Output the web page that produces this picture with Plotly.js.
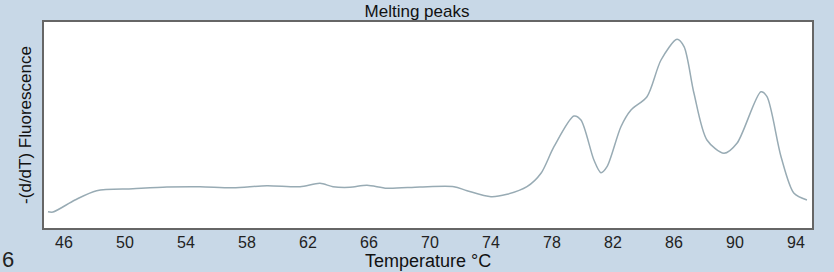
<!DOCTYPE html>
<html>
<head>
<meta charset="utf-8">
<script src="https://cdn.plot.ly/plotly-3.0.1.min.js"></script>
<style>html,body{margin:0;padding:0;background:#c8d8e7;}#chart{width:834px;height:272px;}</style>
</head>
<body>
<div id="chart"></div>
<script>
const temperature = [44.95, 45.28, 46.72, 48.14, 50.52, 52.75, 54.92, 57.08, 59.31, 61.48, 62.79, 63.64, 64.75, 65.87, 67.18, 69.34, 71.57, 72.43, 74.0, 75.05, 76.36, 77.28, 78.13, 79.44, 79.9, 80.75, 81.21, 81.61, 82.52, 83.18, 84.23, 85.15, 86.2, 86.66, 87.31, 88.16, 89.28, 90.13, 91.7, 92.1, 93.02, 93.87, 94.72];
const fluorescence = [0.163, 0.16, 0.28, 0.373, 0.393, 0.41, 0.413, 0.403, 0.423, 0.413, 0.447, 0.413, 0.407, 0.427, 0.397, 0.41, 0.413, 0.373, 0.313, 0.337, 0.413, 0.547, 0.813, 1.12, 1.08, 0.68, 0.553, 0.613, 1.013, 1.18, 1.313, 1.68, 1.887, 1.813, 1.347, 0.88, 0.747, 0.847, 1.363, 1.313, 0.713, 0.347, 0.28];
const tickValues = [46, 50, 54, 58, 62, 66, 70, 74, 78, 82, 86, 90, 94];
const tickLabels = ["46", "50", "54", "58", "62", "66", "70", "74", "78", "82", "86", "90", "94"];

const font = "Liberation Sans, Arial, sans-serif";
Plotly.newPlot("chart", [{
  x: temperature, y: fluorescence, type: "scatter", mode: "lines",
  line: {color: "#98abb4", width: 1.5, shape: "spline", smoothing: 0.8},
  hoverinfo: "skip"
}], {
  width: 834, height: 272,
  paper_bgcolor: "#c8d8e7", plot_bgcolor: "#ffffff",
  margin: {l: 44, r: 22, t: 22, b: 44},
  showlegend: false,
  title: {text: "Melting peaks", font: {family: font, size: 17, color: "#111"}, x: 0.5, xanchor: "center", y: 0.96, yanchor: "middle"},
  xaxis: {
    range: [44.69, 95.05], tickvals: tickValues, ticktext: tickLabels,
    tickfont: {family: font, size: 16, color: "#222"}, ticks: "", showgrid: false, zeroline: false,
    ticklabelstandoff: -1,
    showline: true, linecolor: "#666", linewidth: 2, mirror: true
  },
  yaxis: {
    range: [0, 2.06], showticklabels: false, ticks: "", showgrid: false, zeroline: false,
    showline: true, linecolor: "#666", linewidth: 2, mirror: true,
    title: {text: "-(d/dT) Fluorescence", font: {family: font, size: 17, color: "#111"}, standoff: 6}
  },
  annotations: [
    {text: "Temperature °C", xref: "paper", yref: "paper", x: 0.5, y: -0.16, xanchor: "center", yanchor: "middle", showarrow: false, font: {family: font, size: 18, color: "#111"}},
    {text: "6", xref: "paper", yref: "paper", x: -0.047, y: -0.155, xanchor: "center", yanchor: "middle", showarrow: false, font: {family: font, size: 22, color: "#222"}}
  ]
}, {staticPlot: true});
</script>
</body>
</html>
